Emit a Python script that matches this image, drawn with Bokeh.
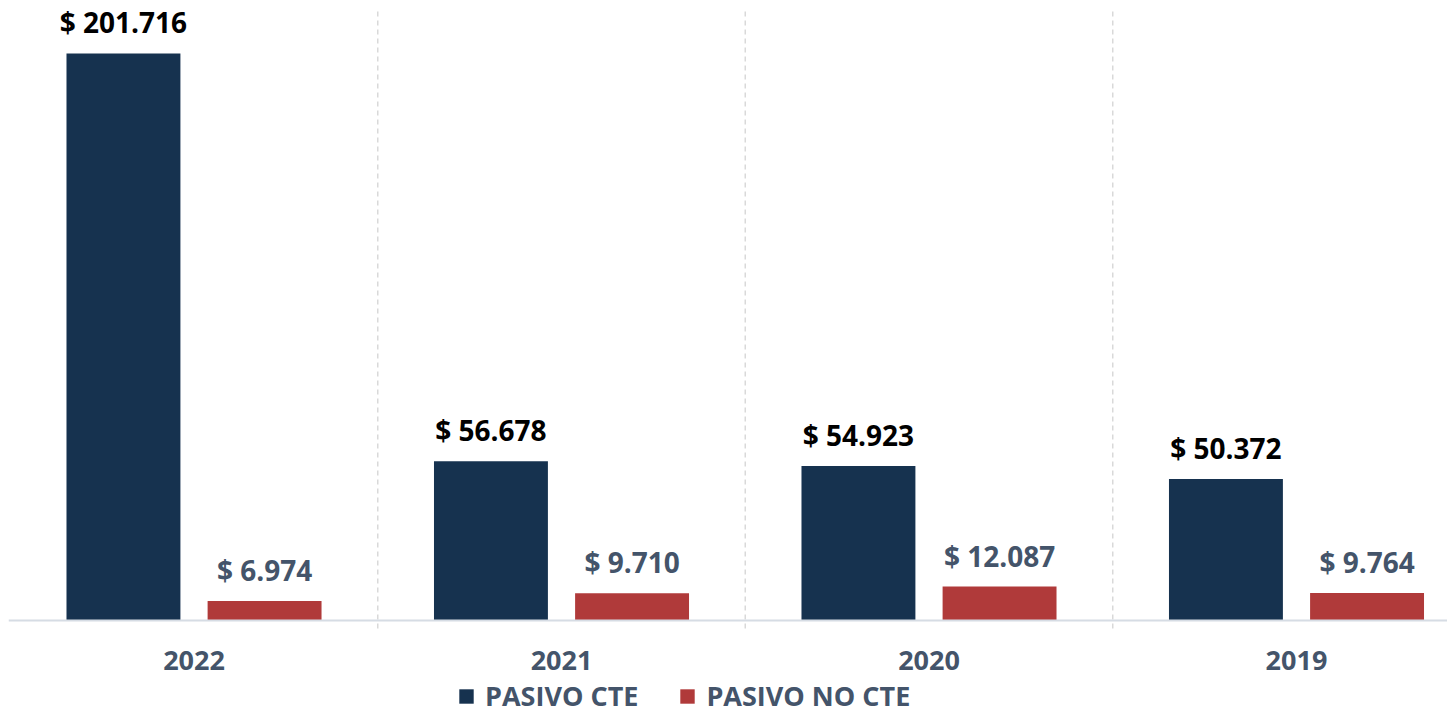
from bokeh.plotting import figure
from bokeh.models import Range1d, Legend, LegendItem, ColumnDataSource, Span
from bokeh.core.properties import value
from bokeh.embed import file_html
from bokeh.resources import INLINE

years = ["2022", "2021", "2020", "2019"]
pasivo_cte = [201716, 56678, 54923, 50372]
pasivo_no_cte = [6974, 9710, 12087, 9764]
series_names = ["PASIVO CTE", "PASIVO NO CTE"]

BLUE = "#16324F"
RED = "#B03A3A"
SLATE = "#44546A"
FONT = "Open Sans"

def fmt(v):
    return "$ " + f"{v:,}".replace(",", ".")

n = len(years)
xc = [i + 0.5 for i in range(n)]
off = 0.192
bw = 0.31

# vertical scale: 612 px of frame for 0..217700, 94 px below baseline
ymax = 217700
per_px = ymax / 612.0
ymin = -94 * per_px

src = ColumnDataSource(dict(
    xc=xc,
    x1=[x - off for x in xc],
    x2=[x + off for x in xc],
    cte=pasivo_cte,
    nocte=pasivo_no_cte,
    l1=[fmt(v) for v in pasivo_cte],
    l2=[fmt(v) for v in pasivo_no_cte],
    yr=years,
    base=[0] * n,
))

p = figure(frame_width=1439, frame_height=706, output_backend="svg",
           toolbar_location=None, x_range=Range1d(-0.0048, 3.9109),
           y_range=Range1d(ymin, ymax), y_axis_location=None,
           x_axis_location=None,
           min_border_left=8, min_border_right=0, min_border_top=8,
           min_border_bottom=0)
p.outline_line_color = None
p.background_fill_color = "white"
p.xgrid.grid_line_color = None
p.ygrid.grid_line_color = None

# category dividers (dashed), stopping just below the baseline
div_x = [float(i) for i in range(1, n)]
p.segment(x0=div_x, x1=div_x, y0=[-8 * per_px] * len(div_x), y1=[ymax] * len(div_x),
          line_color="#D9D9D9", line_dash="5 4", line_width=1.5)

# baseline
p.add_layout(Span(location=0, dimension="width", line_color="#D6DCE4",
                  line_width=2))

r1 = p.vbar(x="x1", top="cte", width=bw, bottom=0, source=src,
            fill_color=BLUE, line_color=None)
r2 = p.vbar(x="x2", top="nocte", width=bw, bottom=0, source=src,
            fill_color=RED, line_color=None)

p.text(x="x1", y="cte", text="l1", source=src, text_align="center",
       text_baseline="alphabetic", y_offset=-31, text_font=value(FONT),
       text_font_style="bold", text_font_size="28px", text_color="black")
p.text(x="x2", y="nocte", text="l2", source=src, text_align="center",
       text_baseline="alphabetic", y_offset=-31, text_font=value(FONT),
       text_font_style="bold", text_font_size="28px", text_color=SLATE)

# category labels
p.text(x="xc", y="base", text="yr", source=src, text_align="center",
       text_baseline="middle", y_offset=40, text_font=value(FONT),
       text_font_style="bold", text_font_size="27px", text_color=SLATE)

legend = Legend(items=[LegendItem(label=series_names[0], renderers=[r1]),
                       LegendItem(label=series_names[1], renderers=[r2])],
                orientation="horizontal", location=(449, 0),
                border_line_color=None, background_fill_alpha=0,
                label_text_font=FONT, label_text_font_style="bold",
                label_text_font_size="27px", label_text_color=SLATE,
                glyph_width=18, glyph_height=18, label_standoff=10,
                spacing=40, padding=0, margin=0, label_height=20)
p.add_layout(legend, "center")

open("out.html", "w").write(file_html(p, INLINE))
